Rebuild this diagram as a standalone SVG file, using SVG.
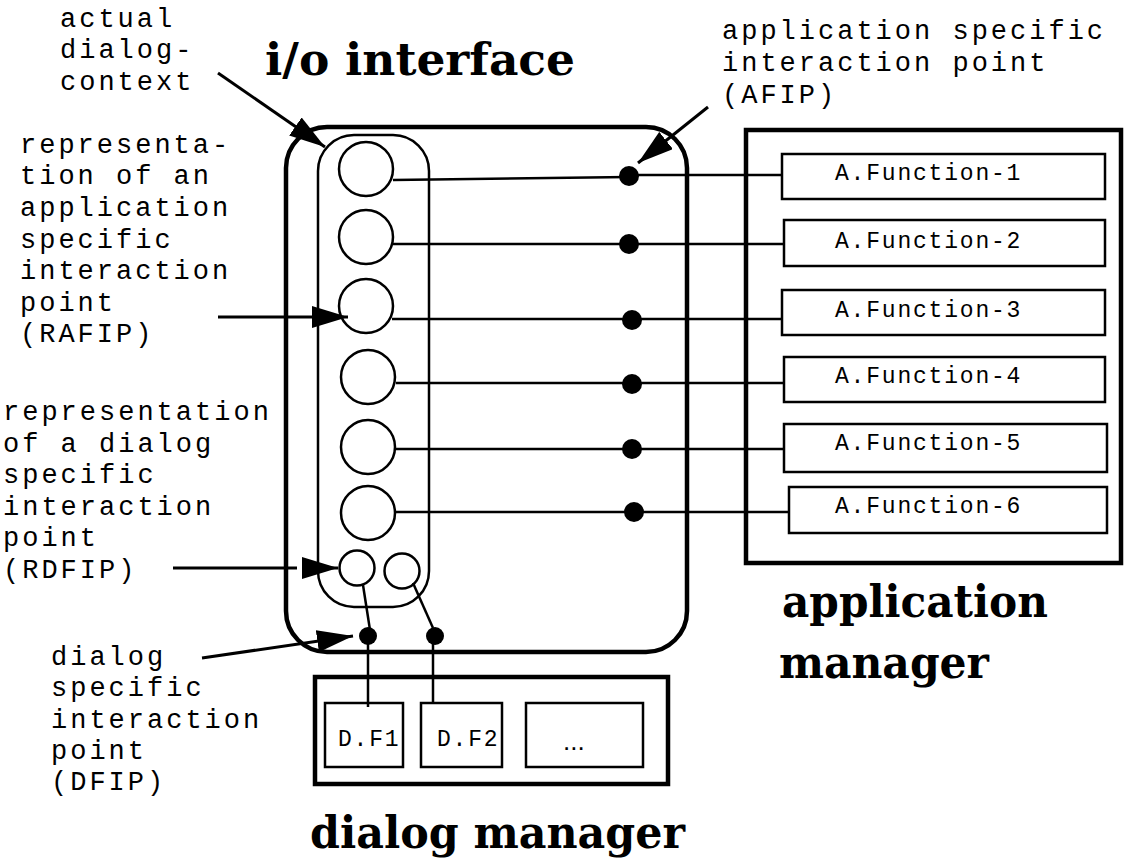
<svg xmlns="http://www.w3.org/2000/svg" width="1128" height="860" viewBox="0 0 1128 860">
<style>
.lbl{font-family:"Liberation Mono","Courier New",monospace;font-size:27px;letter-spacing:3.0px;fill:#000}
.fn{font-family:"Liberation Mono","Courier New",monospace;font-size:23px;letter-spacing:1.8px;fill:#000}
.title{font-family:"DejaVu Serif Condensed","DejaVu Serif",serif;font-weight:bold;font-size:44px;fill:#000}
.thick{fill:none;stroke:#000;stroke-width:4.5}
.box{fill:#fff;stroke:#000;stroke-width:2.5}
.circ{fill:#fff;stroke:#000;stroke-width:2.5}
.ln{fill:none;stroke:#000;stroke-width:2.5}
.arr{fill:none;stroke:#000;stroke-width:3;marker-end:url(#ah)}
.dot{fill:#000}
</style>
<defs>
<marker id="ah" markerUnits="userSpaceOnUse" markerWidth="36" markerHeight="22" refX="36" refY="11" orient="auto" viewBox="0 0 36 22">
<path d="M0,0 L36,11 L0,22 z" fill="#000"/>
</marker>
</defs>
<rect width="1128" height="860" fill="#fff"/>

<g id="io-interface">
<rect class="thick" x="286" y="127" width="401" height="525" rx="41" ry="41"/>
<text class="title" x="265" y="75" textLength="310" lengthAdjust="spacingAndGlyphs">i/o interface</text>
</g>
<g id="dialog-context">
<rect class="ln" x="318" y="135" width="111" height="472" rx="36" ry="36"/>
</g>
<g id="rafip-1"><circle class="circ" cx="366" cy="169" r="27"/></g>
<g id="rafip-2"><circle class="circ" cx="366" cy="237" r="27"/></g>
<g id="rafip-3"><circle class="circ" cx="366" cy="306" r="27"/></g>
<g id="rafip-4"><circle class="circ" cx="368" cy="377" r="27"/></g>
<g id="rafip-5"><circle class="circ" cx="368" cy="447" r="27"/></g>
<g id="rafip-6"><circle class="circ" cx="368" cy="513" r="27"/></g>
<g id="rdfip-1"><circle class="circ" cx="357" cy="568" r="17.5"/></g>
<g id="rdfip-2"><circle class="circ" cx="402" cy="571" r="17.5"/></g>

<g id="application-manager">
<rect class="thick" x="746" y="130" width="375" height="433"/>
<text class="title" x="782" y="617" textLength="266" lengthAdjust="spacingAndGlyphs">application</text>
<text class="title" x="779" y="678" textLength="210" lengthAdjust="spacingAndGlyphs">manager</text>
</g>
<g id="afn-1"><rect class="box" x="782" y="154" width="323" height="45"/><text class="fn" x="835" y="180">A.Function-1</text></g>
<g id="afn-2"><rect class="box" x="784" y="220" width="321" height="46"/><text class="fn" x="835" y="248">A.Function-2</text></g>
<g id="afn-3"><rect class="box" x="782" y="290" width="323" height="45"/><text class="fn" x="835" y="317">A.Function-3</text></g>
<g id="afn-4"><rect class="box" x="784" y="357" width="321" height="45"/><text class="fn" x="835" y="383">A.Function-4</text></g>
<g id="afn-5"><rect class="box" x="784" y="424" width="323" height="48"/><text class="fn" x="835" y="450">A.Function-5</text></g>
<g id="afn-6"><rect class="box" x="789" y="487" width="318" height="46"/><text class="fn" x="835" y="513">A.Function-6</text></g>

<g id="dialog-manager">
<rect class="thick" x="315" y="677" width="353" height="107"/>
<text class="title" x="310" y="848" textLength="375" lengthAdjust="spacingAndGlyphs">dialog manager</text>
</g>
<g id="df-1"><rect class="box" x="325" y="703" width="78" height="64"/><text class="fn" x="338" y="746">D.F1</text></g>
<g id="df-2"><rect class="box" x="421" y="703" width="81" height="64"/><text class="fn" x="437" y="746">D.F2</text></g>
<g id="df-more"><rect class="box" x="526" y="703" width="117" height="64"/><text x="563" y="750" style="font-family:'Liberation Sans',Arial,sans-serif;font-size:26px">...</text></g>

<g id="connectors">
<line class="ln" x1="393" y1="180" x2="629" y2="177"/>
<line class="ln" x1="629" y1="175" x2="782" y2="175"/>
<line class="ln" x1="393" y1="244" x2="784" y2="244"/>
<line class="ln" x1="392" y1="319" x2="782" y2="319"/>
<line class="ln" x1="396" y1="383" x2="784" y2="383"/>
<line class="ln" x1="395" y1="449" x2="784" y2="449"/>
<line class="ln" x1="395" y1="512" x2="789" y2="512"/>
<circle class="dot" cx="629" cy="176" r="10"/>
<circle class="dot" cx="629" cy="244" r="10"/>
<circle class="dot" cx="632" cy="320" r="10"/>
<circle class="dot" cx="632" cy="384" r="10"/>
<circle class="dot" cx="632" cy="449" r="10"/>
<circle class="dot" cx="634" cy="512" r="10"/>
<line class="ln" x1="363" y1="585" x2="370" y2="630"/>
<line class="ln" x1="413" y1="583" x2="433" y2="628"/>
<circle class="dot" cx="368" cy="636" r="9"/>
<circle class="dot" cx="435" cy="636" r="9"/>
<line class="ln" x1="368" y1="636" x2="368" y2="707"/>
<line class="ln" x1="433" y1="636" x2="433" y2="703"/>
<line class="arr" x1="218" y1="73" x2="325" y2="147"/>
<line class="arr" x1="708" y1="107" x2="638" y2="163"/>
<line class="arr" x1="218" y1="317" x2="348" y2="317"/>
<path class="arr" d="M173,568 H297 M304,568 H338"/>
<line class="arr" x1="202" y1="658" x2="353" y2="636"/>
</g>

<g id="labels">
<text class="lbl"><tspan x="60" y="27">actual</tspan><tspan x="60" y="58">dialog-</tspan><tspan x="60" y="90">context</tspan></text>
<text class="lbl"><tspan x="722" y="39">application specific</tspan><tspan x="722" y="71">interaction point</tspan><tspan x="722" y="103">(AFIP)</tspan></text>
<text class="lbl"><tspan x="20" y="153">representa-</tspan><tspan x="20" y="184">tion of an</tspan><tspan x="20" y="216">application</tspan><tspan x="20" y="248">specific</tspan><tspan x="20" y="279">interaction</tspan><tspan x="20" y="311">point</tspan><tspan x="20" y="342">(RAFIP)</tspan></text>
<text class="lbl"><tspan x="3" y="420">representation</tspan><tspan x="3" y="452">of a dialog</tspan><tspan x="3" y="483">specific</tspan><tspan x="3" y="515">interaction</tspan><tspan x="3" y="546">point</tspan><tspan x="3" y="578">(RDFIP)</tspan></text>
<text class="lbl"><tspan x="51" y="665">dialog</tspan><tspan x="51" y="696">specific</tspan><tspan x="51" y="728">interaction</tspan><tspan x="51" y="759">point</tspan><tspan x="51" y="790">(DFIP)</tspan></text>
</g>
</svg>
